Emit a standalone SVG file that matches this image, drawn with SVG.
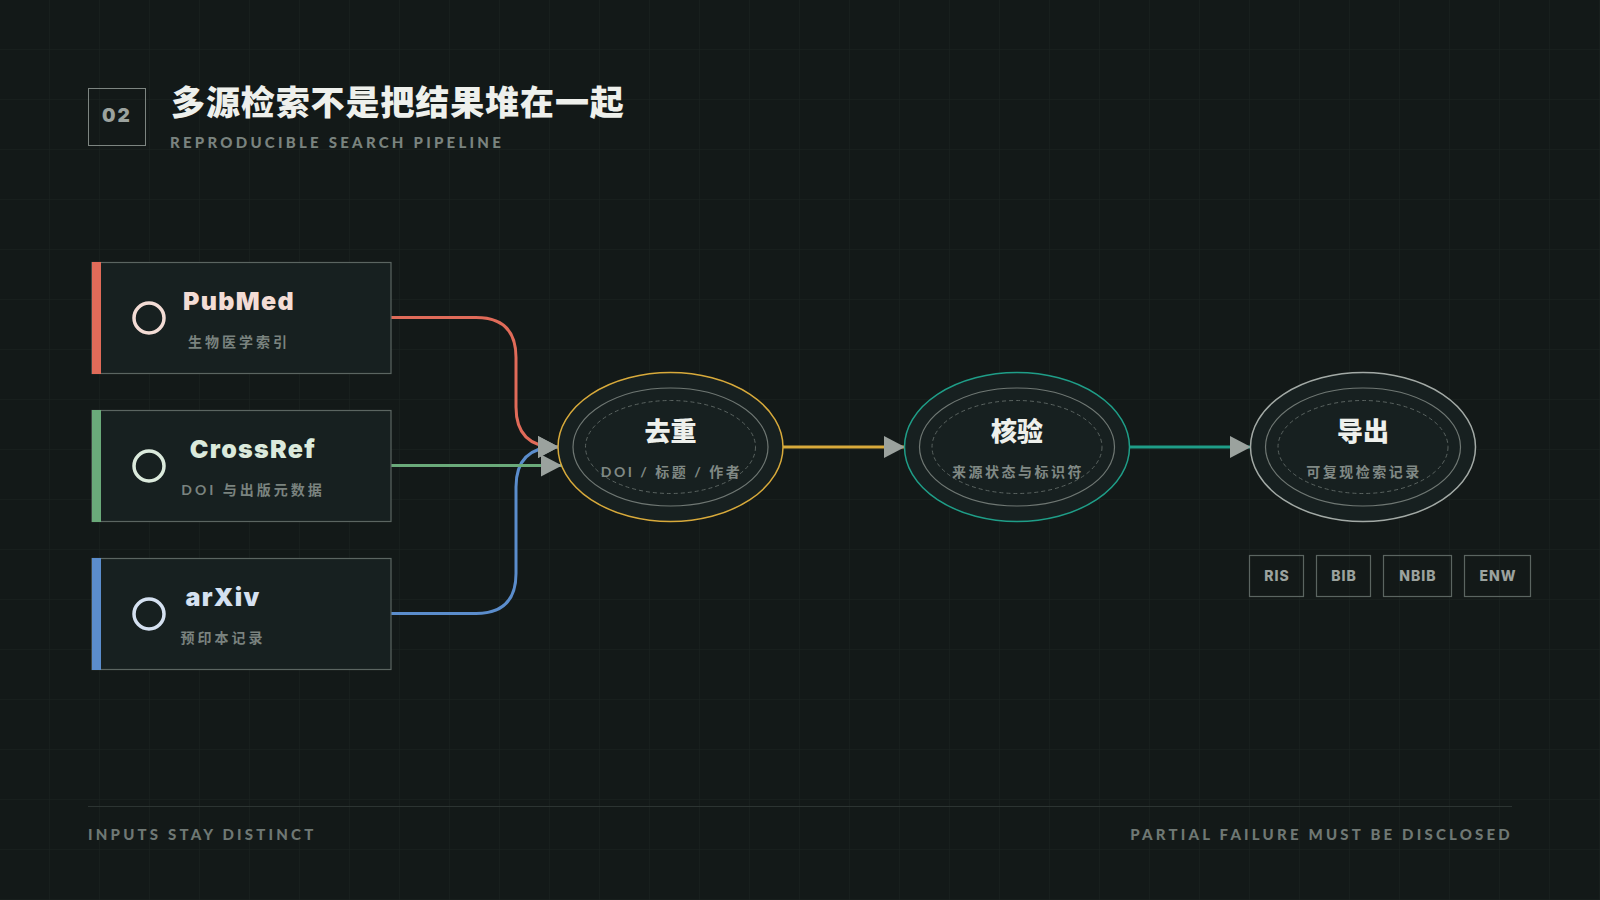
<svg xmlns="http://www.w3.org/2000/svg" width="1600" height="900" viewBox="0 0 1600 900">
<defs>
<pattern id="grid" width="50" height="50" patternUnits="userSpaceOnUse">
<path d="M50 0V50M0 50H50" fill="none" stroke="#1b2322" stroke-width="1"/>
</pattern>
<marker id="arr" markerUnits="userSpaceOnUse" markerWidth="22" markerHeight="24" refX="21" refY="12" orient="auto" viewBox="0 0 22 24">
<path d="M0,1 L21,12 L0,23 Z" fill="#9ba29e"/>
</marker>
<style>
.src{fill:#172020;stroke:#5b6561;stroke-width:1.2}
.ring{fill:none;stroke-width:3.5}
.stitle{font-family:Inter,"Liberation Sans",sans-serif;font-weight:900;font-size:25px;text-anchor:middle;letter-spacing:1.3px}
.ssub{font-family:Lato,"Noto Sans CJK SC",sans-serif;font-weight:700;font-size:14px;fill:#7a837f;text-anchor:middle;letter-spacing:3px}
.outer{fill:#172020;stroke-width:1.5}
.inner{fill:none;stroke:#6f7773;stroke-width:1.2}
.dash{fill:none;stroke:#5a6360;stroke-width:1;stroke-dasharray:4 3}
.ntitle{font-family:"Noto Sans CJK SC",sans-serif;font-weight:900;font-size:26px;fill:#eef0ec;text-anchor:middle}
.nsub{font-family:Lato,"Noto Sans CJK SC",sans-serif;font-weight:700;font-size:14px;fill:#808985;text-anchor:middle;letter-spacing:2.5px}
.conn{fill:none;stroke-width:3}
.tag{fill:none;stroke:#5b6561;stroke-width:1.2}
.tagt{font-family:Inter,"Liberation Sans",sans-serif;font-weight:800;font-size:14px;fill:#9ba29e;text-anchor:middle;letter-spacing:1px}
.foot{font-family:Lato,"Liberation Sans",sans-serif;font-weight:900;font-size:15px;fill:#6f7874;letter-spacing:3.2px}
</style>
</defs>
<rect width="1600" height="900" fill="#131918"/>
<rect width="1600" height="900" fill="url(#grid)"/>

<g id="header">
<rect x="88.5" y="88.5" width="57" height="57" fill="none" stroke="#7d8581" stroke-width="1"/>
<text x="117" y="122" font-family="Inter,'Liberation Sans',sans-serif" font-weight="900" font-size="19" fill="#9ba29e" text-anchor="middle" letter-spacing="2">02</text>
<text x="171" y="115" font-family="'Noto Sans CJK SC',sans-serif" font-weight="900" font-size="34" fill="#eef0ec" letter-spacing="0.9">多源检索不是把结果堆在一起</text>
<text x="170" y="148" font-family="Lato,'Liberation Sans',sans-serif" font-weight="900" font-size="15" fill="#7a837f" letter-spacing="3.25">REPRODUCIBLE SEARCH PIPELINE</text>
</g>

<g id="connectors">
<path class="conn" stroke="#e06b59" d="M391,317.5 H476 Q516,317.5 516,357.5 V407 Q516,447 556,447 H559" marker-end="url(#arr)"/>
<path class="conn" stroke="#5b8dcc" d="M391,613.5 H476 Q516,613.5 516,573.5 V487 Q516,447 556,447 H559" marker-end="url(#arr)"/>
<path class="conn" stroke="#6aaa7a" d="M391,465.5 H562" marker-end="url(#arr)"/>
<path class="conn" stroke="#d8aa3b" d="M783,447 H905" marker-end="url(#arr)"/>
<path class="conn" stroke="#1f9e88" d="M1130,447 H1251" marker-end="url(#arr)"/>
</g>

<g id="pubmed">
<rect class="src" x="92" y="262.5" width="299" height="111"/>
<rect x="92" y="262" width="9" height="112" fill="#e06b59"/>
<circle class="ring" cx="149" cy="318" r="15" stroke="#f3dcd5"/>
<text class="stitle" x="239" y="310" fill="#f3dcd5">PubMed</text>
<text class="ssub" x="239" y="347">生物医学索引</text>
</g>

<g id="crossref">
<rect class="src" x="92" y="410.5" width="299" height="111"/>
<rect x="92" y="410" width="9" height="112" fill="#6aaa7a"/>
<circle class="ring" cx="149" cy="466" r="15" stroke="#dbeadc"/>
<text class="stitle" x="253" y="458" fill="#dbeadc">CrossRef</text>
<text class="ssub" x="253" y="495">DOI 与出版元数据</text>
</g>

<g id="arxiv">
<rect class="src" x="92" y="558.5" width="299" height="111"/>
<rect x="92" y="558" width="9" height="112" fill="#5b8dcc"/>
<circle class="ring" cx="149" cy="614" r="15" stroke="#d5e1f1"/>
<text class="stitle" x="223" y="606" fill="#d5e1f1">arXiv</text>
<text class="ssub" x="223" y="643">预印本记录</text>
</g>

<g id="dedup">
<ellipse class="outer" cx="670.5" cy="447" rx="112.5" ry="74.5" stroke="#d8aa3b"/>
<ellipse class="inner" cx="670.5" cy="447" rx="97.5" ry="59"/>
<ellipse class="dash" cx="670.5" cy="447" rx="85" ry="46.5"/>
<text class="ntitle" x="670.5" y="441">去重</text>
<text class="nsub" x="671.5" y="477">DOI / 标题 / 作者</text>
</g>

<g id="verify">
<ellipse class="outer" cx="1017" cy="447" rx="112.5" ry="74.5" stroke="#1f9e88"/>
<ellipse class="inner" cx="1017" cy="447" rx="97.5" ry="59"/>
<ellipse class="dash" cx="1017" cy="447" rx="85" ry="46.5"/>
<text class="ntitle" x="1017" y="441">核验</text>
<text class="nsub" x="1018" y="477">来源状态与标识符</text>
</g>

<g id="export">
<ellipse class="outer" cx="1363" cy="447" rx="112.5" ry="74.5" stroke="#a3aaa6"/>
<ellipse class="inner" cx="1363" cy="447" rx="97.5" ry="59"/>
<ellipse class="dash" cx="1363" cy="447" rx="85" ry="46.5"/>
<text class="ntitle" x="1363" y="441">导出</text>
<text class="nsub" x="1364" y="477">可复现检索记录</text>
</g>

<g id="formats">
<rect class="tag" x="1249.5" y="555.5" width="54" height="41"/>
<text class="tagt" x="1277" y="580.5">RIS</text>
<rect class="tag" x="1316.5" y="555.5" width="54" height="41"/>
<text class="tagt" x="1344" y="580.5">BIB</text>
<rect class="tag" x="1383.5" y="555.5" width="68" height="41"/>
<text class="tagt" x="1418" y="580.5">NBIB</text>
<rect class="tag" x="1464.5" y="555.5" width="66" height="41"/>
<text class="tagt" x="1498" y="580.5">ENW</text>
</g>

<g id="footer">
<line x1="88" y1="806.5" x2="1512" y2="806.5" stroke="#2c3432" stroke-width="1"/>
<text class="foot" x="88" y="840">INPUTS STAY DISTINCT</text>
<text class="foot" x="1513" y="840" text-anchor="end">PARTIAL FAILURE MUST BE DISCLOSED</text>
</g>
</svg>
